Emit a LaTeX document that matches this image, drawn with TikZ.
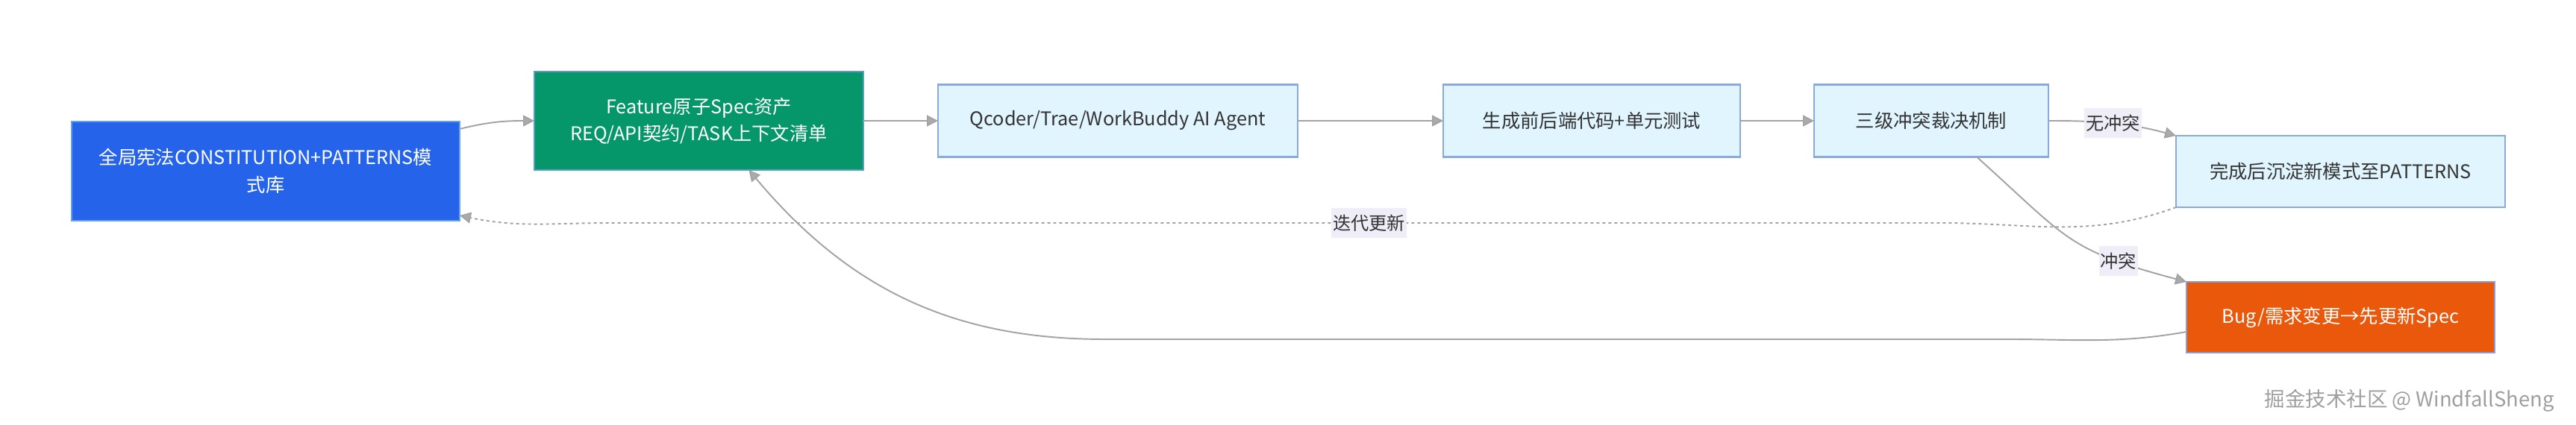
\documentclass[tikz,border=0pt]{standalone}
\usepackage{fontspec}
\setmainfont{Noto Sans CJK SC}
\usepackage{xcolor}
\usepackage{tikz}
\usetikzlibrary{arrows.meta,positioning}

\definecolor{blueFill}{HTML}{2563EB}
\definecolor{blueLine}{HTML}{62A0F5}
\definecolor{greenFill}{HTML}{059669}
\definecolor{greenLine}{HTML}{5B9BC8}
\definecolor{lightFill}{HTML}{E1F5FE}
\definecolor{lightLine}{HTML}{8AAADC}
\definecolor{orangeFill}{HTML}{EA580C}
\definecolor{orangeLine}{HTML}{8C9BD0}
\definecolor{edgeGray}{HTML}{A3A3A3}
\definecolor{tipGray}{HTML}{ABABAB}
\definecolor{tagFill}{HTML}{EFEDF8}
\definecolor{inkDark}{HTML}{333333}

\begin{document}
\begin{tikzpicture}[
    box/.style={rectangle, draw=lightLine, fill=lightFill, line width=0.6pt, text=inkDark,
        inner sep=0pt, outer sep=0pt, align=center, font=\fontsize{7.2}{10.4}\selectfont},
    bluebox/.style={box, draw=blueLine, fill=blueFill, text=white},
    greenbox/.style={box, draw=greenLine, fill=greenFill, text=white},
    orangebox/.style={box, draw=orangeLine, fill=orangeFill, text=white},
    arrow/.style={-{Triangle[length=0.15cm, width=0.15cm, fill=tipGray]}, draw=edgeGray, line width=0.55pt},
    dotarrow/.style={arrow, dash pattern=on 0.04cm off 0.04cm},
    elabel/.style={fill=tagFill, text=inkDark, inner xsep=0.5pt, inner ysep=2.5pt,
        font=\fontsize{6.9}{8}\selectfont}
]
    \useasboundingbox (0,0) rectangle (34.52,-5.70);

    % Spec layer
    \node[bluebox, minimum width=5.20cm, minimum height=1.33cm] (constitution) at (3.56,-2.295)
        {全局宪法CONSTITUTION+PATTERNS模\\式库};
    \node[greenbox, minimum width=4.41cm, minimum height=1.32cm] (feature) at (9.365,-1.62)
        {Feature原子Spec资产\\REQ/API契约/TASK上下文清单};

    % Agent pipeline
    \node[box, minimum width=4.82cm, minimum height=0.97cm, right=1cm of feature] (agent)
        {Qcoder/Trae/WorkBuddy AI Agent};
    \node[box, minimum width=3.98cm, minimum height=0.97cm, right=1.95cm of agent] (codegen)
        {生成前后端代码+单元测试};
    \node[box, minimum width=3.14cm, minimum height=0.97cm, right=0.99cm of codegen] (verdict)
        {三级冲突裁决机制};

    % Outcomes
    \node[box, minimum width=4.41cm, minimum height=0.96cm] (patterns) at (31.365,-2.30)
        {完成后沉淀新模式至PATTERNS};
    \node[orangebox, minimum width=4.13cm, minimum height=0.95cm, below=1cm of patterns] (bugfix)
        {Bug/需求变更→先更新Spec};

    % Arrows
    \draw[arrow] ([yshift=-0.1cm]constitution.north east) to[out=14,in=180] (feature.west);
    \draw[arrow] (feature.east) -- (agent.west);
    \draw[arrow] (agent.east) -- (codegen.west);
    \draw[arrow] (codegen.east) -- (verdict.west);
    \draw[arrow] (verdict.east) to[out=0,in=165] node[elabel, pos=0.5] {无冲突} (patterns.north west);
    \draw[arrow] ([xshift=0.61cm]verdict.south) to[out=-42,in=165,looseness=1.3]
        node[elabel, pos=0.76] {冲突} (bugfix.north west);
    \draw[dotarrow] (patterns.south west) to[out=200,in=0] (26.0,-2.99)
        -- node[elabel, pos=0.43] {迭代更新} (8.2,-2.99)
        to[out=180,in=-12] ([yshift=0.07cm]constitution.south east);
    \draw[arrow] ([yshift=-0.195cm]bugfix.west) to[out=190,in=0] (26.9,-4.55) -- (14.8,-4.55)
        to[out=180,in=-50] ([xshift=0.67cm]feature.south);

    % Watermark
    \node[anchor=east, text=gray!75, font=\fontsize{7.8}{9}\selectfont] (mark) at (34.35,-5.37)
        {掘金技术社区 @ WindfallSheng};
\end{tikzpicture}
\end{document}
